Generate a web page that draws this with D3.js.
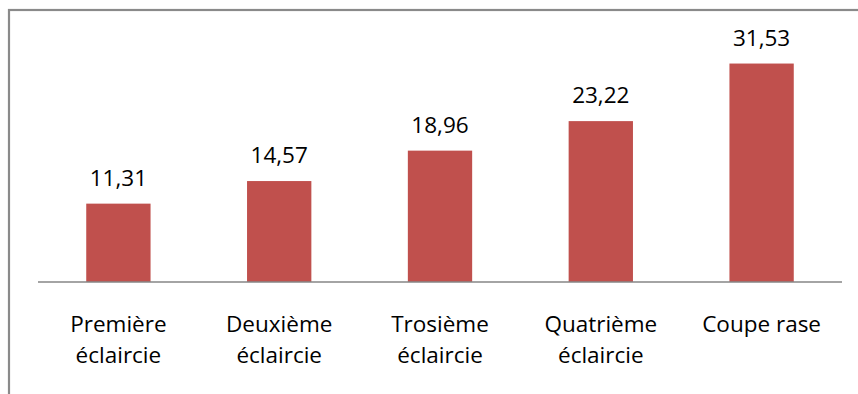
<!DOCTYPE html>
<html>
<head>
<meta charset="utf-8">
<script src="https://cdn.jsdelivr.net/npm/d3@7"></script>
<style>
  html, body { margin: 0; padding: 0; background: #fff; }
  svg { display: block; }
</style>
</head>
<body>
<svg id="chart" width="858" height="394"></svg>
<script>
// Categories (two-line labels) and values
const categories = [
  ["Première", "éclaircie"],
  ["Deuxième", "éclaircie"],
  ["Trosième", "éclaircie"],
  ["Quatrième", "éclaircie"],
  ["Coupe rase"]
];
const values = [11.31, 14.57, 18.96, 23.22, 31.53];
const valueLabels = ["11,31", "14,57", "18,96", "23,22", "31,53"];
const yMax = 35;

const svg = d3.select("#chart");
const plot = { left: 38, right: 842, top: 39.5, bottom: 282 };
const font = "'Open Sans', sans-serif";
const fontSize = 22.5;

// Outer chart frame (extends past the right/bottom edge)
svg.append("rect")
  .attr("x", 9).attr("y", 10)
  .attr("width", 900).attr("height", 500)
  .attr("fill", "#fff")
  .attr("stroke", "#8a8a8a")
  .attr("stroke-width", 2.2);

const x = d3.scaleBand()
  .domain(d3.range(categories.length))
  .range([plot.left, plot.right])
  .paddingInner(0.6)
  .paddingOuter(0.3);

const y = d3.scaleLinear()
  .domain([0, yMax])
  .range([plot.bottom, plot.top]);

// Bars
svg.append("g").selectAll("rect")
  .data(values)
  .join("rect")
  .attr("x", (d, i) => x(i))
  .attr("y", d => y(d))
  .attr("width", x.bandwidth())
  .attr("height", d => y(0) - y(d))
  .attr("fill", "#C0504D");

// Category axis line
svg.append("line")
  .attr("x1", plot.left).attr("x2", plot.right)
  .attr("y1", y(0)).attr("y2", y(0))
  .attr("stroke", "#868686")
  .attr("stroke-width", 1.5);

// Value labels above bars
svg.append("g").selectAll("text")
  .data(values)
  .join("text")
  .attr("x", (d, i) => x(i) + x.bandwidth() / 2)
  .attr("y", d => y(d) - 18)
  .attr("text-anchor", "middle")
  .attr("font-family", font)
  .attr("font-size", fontSize)
  .attr("fill", "#000")
  .text((d, i) => valueLabels[i]);

// Category labels
const cat = svg.append("g").selectAll("text")
  .data(categories)
  .join("text")
  .attr("x", (d, i) => x(i) + x.bandwidth() / 2)
  .attr("y", 332)
  .attr("text-anchor", "middle")
  .attr("font-family", font)
  .attr("font-size", fontSize)
  .attr("fill", "#000");
cat.selectAll("tspan")
  .data(d => d)
  .join("tspan")
  .attr("x", function() { return d3.select(this.parentNode).attr("x"); })
  .attr("dy", (d, j) => j === 0 ? 0 : 31)
  .text(d => d);
</script>
</body>
</html>
